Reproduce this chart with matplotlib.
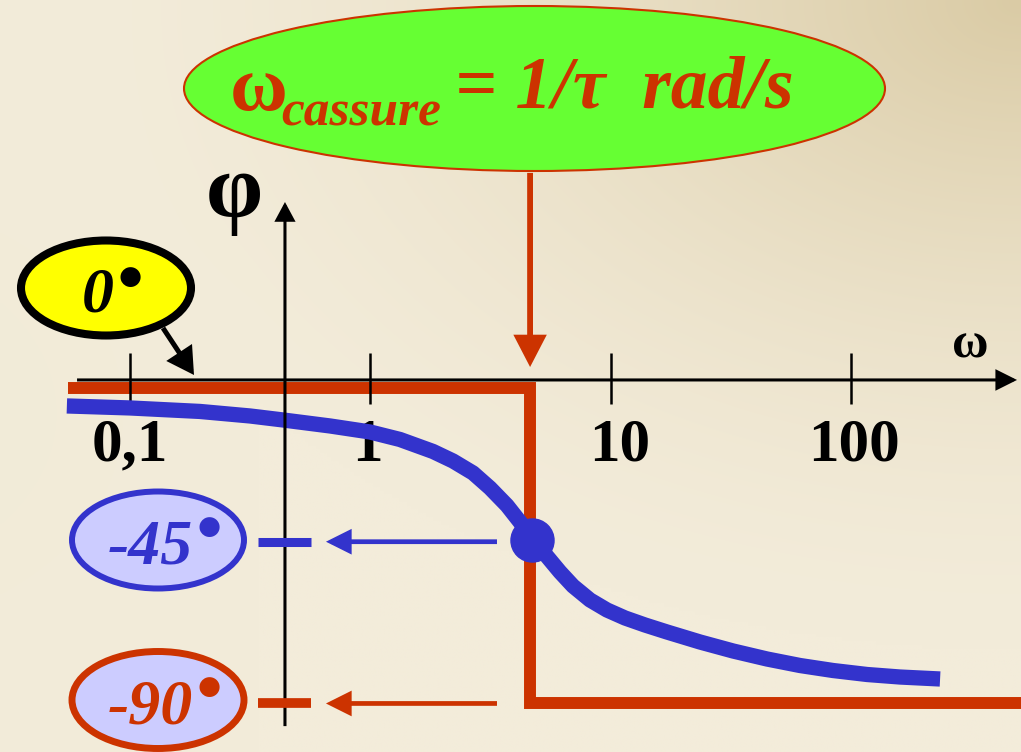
import numpy as np
import matplotlib
matplotlib.use("Agg")
import matplotlib.pyplot as plt
from matplotlib.patches import Ellipse, FancyArrowPatch
from matplotlib.transforms import offset_copy

# ---------------- data ----------------
tick_omegas = [0.1, 1, 10, 100]
tick_labels = ["0,1", "1", "10", "100"]

omega_c = 4.62                      # break frequency (omega_cassure)
asym_omega = [0.0553, omega_c, omega_c, 600.0]
asym_phase = [-2.2, -2.2, -90.0, -90.0]

curve_omega = [0.0547, 0.1001, 0.1956, 0.316, 0.4334, 0.680, 0.997, 1.329,
               1.823, 2.208, 2.675, 3.147, 3.704, 4.195, 4.706, 5.330, 6.153,
               6.969, 8.203, 9.652, 11.47, 13.89, 17.15, 23.52, 32.27, 44.69,
               61.29, 84.09, 116.5, 159.7, 234.4]
curve_phase = [-7.23, -7.79, -8.76, -10.02, -11.13, -12.80, -14.47, -16.56,
               -19.89, -22.54, -25.88, -30.05, -34.92, -39.51, -43.96, -48.41,
               -53.42, -57.32, -61.21, -64.00, -66.22, -68.17, -70.12, -72.90,
               -75.40, -77.63, -79.44, -80.83, -81.94, -82.64, -83.19]

dot_omega = [4.70]
dot_phase = [-44.5]

level_phase = [-45.0, -90.0]
level_labels = ["-45", "-90"]
zero_label = "0"
title_parts = ["\u03c9", "cassure", "= 1/\u03c4  rad/s"]

# ---------------- styling ----------------
RED = "#cc3300"
BLUE = "#3333cc"
LBLUE = "#ccccff"
GREEN = "#66ff33"
YELLOW = "#ffff00"
SERIF = ["Liberation Serif", "DejaVu Serif"]

W, H = 1021, 752
fig = plt.figure(figsize=(W / 100, H / 100), dpi=100)

# background gradient
bg = fig.add_axes([0, 0, 1, 1])
bg.axis("off")
yy, xx = np.mgrid[0:1:200j, 0:1:270j]
light = np.array([243, 236, 218]) / 255.0
tan = np.array([218, 203, 165]) / 255.0
d = np.sqrt((1 - xx) ** 2 + (yy * 1.1) ** 2)
w = np.clip(1 - d / 0.95, 0, 1) ** 1.6
left = np.clip(1 - xx / 0.25, 0, 1) * np.exp(-((yy - 0.55) / 0.3) ** 2) * 0.25
img = light[None, None, :] * (1 - w[..., None]) + tan[None, None, :] * w[..., None]
img = img - left[..., None] * np.array([0.02, 0.01, 0.03])
bg.imshow(np.clip(img, 0, 1), extent=[0, 1, 0, 1], aspect="auto",
          interpolation="bilinear", origin="upper")
bg.set_xlim(0, 1)
bg.set_ylim(0, 1)

# data axes (log omega, phase in degrees)
ax = fig.add_axes([0, 0, 1, 1])
ax.set_xscale("log")
ax.set_xlim(0.02883, 508.8)
ax.set_ylim(-103.5, 105.7)
ax.axis("off")

# overlay axes in pixel coordinates for callouts
ov = fig.add_axes([0, 0, 1, 1])
ov.set_xlim(0, W)
ov.set_ylim(H, 0)
ov.axis("off")


def arrow(axis, p0, p1, color, lw, hl, hw, z=5):
    a = FancyArrowPatch(p0, p1, transform=axis.transData,
                        arrowstyle=f"-|>,head_length={hl},head_width={hw}",
                        mutation_scale=1, lw=lw, color=color,
                        shrinkA=0, shrinkB=0, zorder=z, joinstyle="miter",
                        capstyle="butt")
    axis.add_patch(a)


def bullet(axis, x, y, color):
    axis.text(x, y, "\u25cf", ha="center", va="center", fontsize=19,
              family="DejaVu Sans", color=color, zorder=6)


# red asymptotes
ax.plot(asym_omega, asym_phase, color=RED, lw=8.6, solid_joinstyle="miter",
        solid_capstyle="butt", zorder=2)

# ticks and tick labels (small horizontal nudges as in the slide)
ax.vlines(tick_omegas, -6.7, 7.5, color="black", lw=1.8, zorder=3)
label_nudge_px = [0, -3, 9, 3]
for t, lab, dx in zip(tick_omegas, tick_labels, label_nudge_px):
    tr = offset_copy(ax.transData, fig=fig, x=dx, y=0, units="dots")
    ax.text(t, -22.5, lab, ha="center", va="baseline", fontsize=44,
            fontweight="bold", family=SERIF, color="black", zorder=3,
            transform=tr)

# horizontal axis
arrow(ax, (0.0603, 0), (489.8, 0), "black", 2.2, 12.0, 6.0, z=3)

# blue curve and dot
ax.plot(curve_omega, curve_phase, color=BLUE, lw=11, solid_capstyle="butt",
        solid_joinstyle="round", zorder=4)
ax.plot(dot_omega, dot_phase, "o", ms=31, color=BLUE, zorder=6)

# vertical axis
yaxis_omega = 0.4417
arrow(ax, (yaxis_omega, -96.3), (yaxis_omega, 49.5), "black", 2.2, 10.8, 5.8, z=5)

# level dashes and arrows
level_colors = [BLUE, RED]
for ph, c, lw in zip(level_phase, level_colors, [6.5, 7.0]):
    ax.plot([0.3411, 0.5666], [ph, ph], color=c, lw=lw, solid_capstyle="butt", zorder=5)
    arrow(ax, (3.365, ph), (0.654, ph), c, 3.4, 13.0, 6.5, z=5)

# arrow from title to break frequency
arrow(ax, (omega_c, 57.6), (omega_c, 3.6), RED, 4.2, 16.6, 8.6, z=5)

# axis labels
ov.text(970, 358, "\u03c9", ha="center", va="baseline", fontsize=36,
        fontweight="bold", family=SERIF, color="black")
ov.text(234, 217, "\u03c6", ha="center", va="baseline", fontsize=66,
        fontweight="bold", family=SERIF, color="black")

# green title ellipse
ov.add_patch(Ellipse((534.5, 88.5), 701, 165, fc=GREEN, ec=RED, lw=1.5, zorder=4))
ov.text(230, 110, title_parts[0], ha="left", va="baseline", fontsize=57,
        fontweight="bold", family=SERIF, color=RED, zorder=5)
ov.text(281, 126, title_parts[1], ha="left", va="baseline", fontsize=37,
        fontweight="bold", style="italic", family=SERIF, color=RED, zorder=5)
ov.text(455, 108, title_parts[2], ha="left", va="baseline", fontsize=53,
        fontweight="bold", style="italic", family=SERIF, color=RED, zorder=5)

# yellow 0 degree callout
ov.add_patch(Ellipse((106, 288), 170, 95, fc=YELLOW, ec="black", lw=5.8, zorder=4))
ov.text(98, 311, zero_label, ha="center", va="baseline", fontsize=46,
        fontweight="bold", style="italic", family=SERIF, color="black", zorder=5)
bullet(ov, 130, 277, "black")
arrow(ov, (163, 328), (194, 375), "black", 3.6, 14.0, 8.0, z=5)

# -45 and -90 callouts
callout_y = [540, 700]
edge_lw = [4.3, 5.0]
for lab, cy, c, elw in zip(level_labels, callout_y, level_colors, edge_lw):
    ov.add_patch(Ellipse((158, cy), 172, 97, fc=LBLUE, ec=c, lw=elw, zorder=4))
    ov.text(150, cy + 23, lab, ha="center", va="baseline", fontsize=46,
            fontweight="bold", style="italic", family=SERIF, color=c, zorder=5)
    bullet(ov, 209, cy - 13, c)

fig.savefig("out.png", dpi=100)
